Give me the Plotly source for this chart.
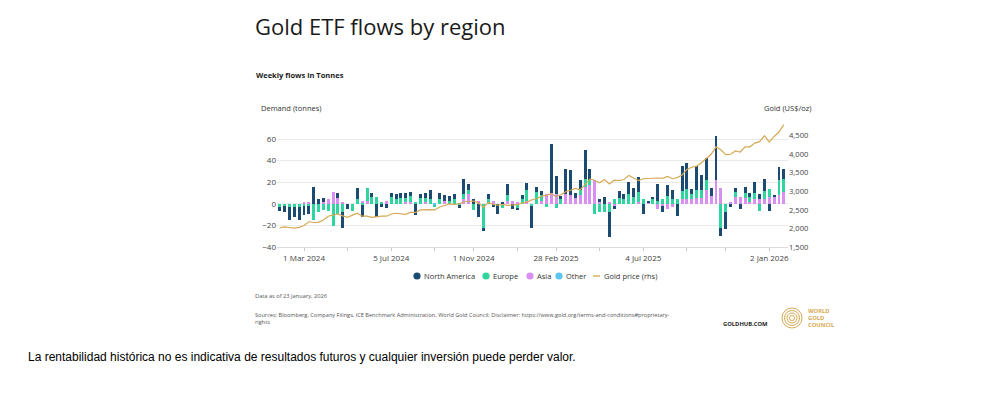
import plotly.graph_objects as go
import pandas as pd

# ---------------- data ----------------
start_date = "2024-01-26"
n_weeks = 105
dates = pd.date_range(start_date, periods=n_weeks, freq="7D")

north_america = [-4, -6, -12, -9, -12, -8, -7, 16, 4, 3,
                 0, 0, 5, -14, -5, 0, 11, -11, 0, 4,
                 -12, -3, -4, 4, 5, 5, 5, 4, -10, 4,
                 5, 9, 0, 6, 5, 4, 5, -3, 14, 5,
                 4, -12, -3, 5, -3, -9, 2, 10, -5, -2,
                 4, 6, -20, 5, 4, 0, 45, 17, 3, 23,
                 23, 5, 9, 27, 10, 0, 2, 6, -23, -3,
                 7, 5, 11, 9, 14, -9, 1, 2, 15, -6,
                 10, 9, -11, 23, 24, 5, 22, 14, 20, 8,
                 41, -8, -15, -3, 4, -5, 6, 4, 10, 5,
                 11, -7, 2, 12, 9]
europe = [-3, -2, -3, -3, -3, -2, -2, -15, -8, -6,
          -7, -21, -9, -8, 0, -7, 4, -1, 12, 6,
          6, 2, 0, 6, 4, 5, 3, 5, 2, 5,
          3, 4, -2, 4, 0, 3, 4, -1, 5, 4,
          -6, 0, -22, 4, 0, 0, -4, 5, 0, -4,
          4, 10, -2, 11, 5, -3, 0, -4, 4, 0,
          0, 0, 5, 7, 5, -9, -8, -8, -8, 4,
          5, 4, 9, 6, 9, 4, 0, 4, 3, 4,
          7, 4, 4, 8, 10, 5, 8, 8, 9, 0,
          0, -22, -8, 0, 5, 0, 5, 4, 6, -7,
          8, 8, 0, 14, 12]
asia = [0, 0, 0, 0, 0, 2, 2, 0, 0, 2,
        4, 11, 5, 2, 0, 0, 0, 3, 3, 0,
        0, 0, 3, 0, 0, 0, 2, 2, 0, 0,
        2, 0, 0, 0, 3, 0, 0, 0, 4, 9,
        0, 3, 0, 0, 3, 0, 0, 3, 3, 2,
        0, 3, 0, 0, 3, 9, 10, 9, 0, 9,
        8, 5, 8, 16, 17, 22, 2, 0, 2, -2,
        0, 0, 0, 0, 2, 0, 1, 0, -5, -2,
        -5, -3, 0, 4, 4, 4, 5, 5, 13, 7,
        22, 15, 0, 2, 6, 6, 5, 2, 4, 4,
        4, 6, 6, 8, 11]
other = [0, 0, 0, 0, 0, 0, 0, 0, 0, 0,
         0, 0, 0, 0, 0, 0, 0, 0, 0, 0,
         0, 0, 0, 0, 0, 0, 0, 0, 0, 0,
         0, 0, -1, 0, 0, 0, 0, 0, 0, 0,
         0, 0, 0, 0, 0, 0, 0, 0, 0, 0,
         0, 0, 0, 0, 0, 0, 0, 0, 0, 0,
         0, 0, 0, 0, 0, 0, 0, 0, 0, 0,
         0, 0, 0, 0, 0, 0, 0, 0, 0, 0,
         0, 0, 0, 0, 0, 0, 0, 0, 0, 0,
         0, 0, 0, 0, 0, 0, 0, 0, 0, 0,
         0, 0, 0, 0, 0]
gold_price = [2018, 2040, 2025, 2010, 2030, 2080, 2180, 2160, 2165, 2230,
              2330, 2360, 2390, 2340, 2300, 2360, 2410, 2330, 2330, 2300,
              2320, 2330, 2330, 2390, 2410, 2400, 2380, 2440, 2430, 2500,
              2510, 2505, 2500, 2580, 2620, 2660, 2650, 2660, 2720, 2740,
              2740, 2690, 2565, 2700, 2650, 2630, 2650, 2620, 2620, 2640,
              2690, 2710, 2770, 2800, 2870, 2890, 2940, 2860, 2910, 2990,
              3030, 3080, 3040, 3200, 3330, 3300, 3230, 3320, 3200, 3300,
              3290, 3320, 3430, 3360, 3290, 3340, 3350, 3350, 3360, 3350,
              3400, 3340, 3370, 3440, 3590, 3650, 3680, 3770, 3880, 4000,
              4200, 4120, 3990, 4000, 4090, 4060, 4200, 4200, 4300, 4340,
              4500, 4330, 4480, 4600, 4800]

tick_dates = ["2024-03-01", "2024-05-03", "2024-07-05", "2024-09-06", "2024-11-01",
              "2025-01-03", "2025-02-28", "2025-05-02", "2025-07-04", "2025-09-05",
              "2025-10-31", "2026-01-02"]
tick_labels = ["1 Mar 2024", "", "5 Jul 2024", "", "1 Nov 2024",
               "", "28 Feb 2025", "", "4 Jul 2025", "",
               "", "2 Jan 2026"]
left_ticks = [-40, -20, 0, 20, 40, 60]
right_ticks = [1500, 2000, 2500, 3000, 3500, 4000, 4500]

series_names = ["North America", "Europe", "Asia", "Other"]
legend_line_name = "Gold price (rhs)"

# ---------------- style ----------------
C_NA = "#1c4a70"
C_EU = "#2fd49e"
C_AS = "#d98ff2"
C_OT = "#5cc4f2"
C_GOLD = "#d6a955"
FONT = "Open Sans"

OFF = 8  # page body margin
W, H = 998 - 2 * OFF, 396 - 2 * OFF
# plot rectangle in reference-page pixels
PL, PR, PT, PB = 277, 788, 120, 247


def pxx(x):
    return (x - PL) / (PR - PL)


def pxy(y):
    return (PB - y) / (PB - PT)


bar_w = 4.3 * 86400000

fig = go.Figure()
for vals, name, col in [(asia, "Asia", C_AS), (other, "Other", C_OT),
                        (europe, "Europe", C_EU), (north_america, "North America", C_NA)]:
    fig.add_trace(go.Bar(x=dates, y=vals, name=name, marker_color=col,
                         marker_line_width=0, width=bar_w, showlegend=False))

fig.add_trace(go.Scatter(x=dates, y=gold_price, yaxis="y2", mode="lines",
                         line=dict(color=C_GOLD, width=1.2), showlegend=False))

left_top = -40 + (PB - PT) / 1.08
right_top = 1500 + (PB - PT) / 0.0371

fig.update_layout(
    width=W, height=H,
    margin=dict(l=PL - OFF, r=W - (PR - OFF), t=PT - OFF, b=H - (PB - OFF), pad=0),
    paper_bgcolor="white", plot_bgcolor="white",
    barmode="relative", bargap=0,
    font=dict(family=FONT, size=8, color="#444"),
    xaxis=dict(type="date", range=["2024-01-22", "2026-01-29"],
               tickvals=tick_dates, ticktext=tick_labels,
               ticks="outside", ticklen=3, tickcolor="#c8c8c8",
               showgrid=False, showline=True, linecolor="#dcdcdc", linewidth=1,
               tickfont=dict(size=8, color="#444")),
    yaxis=dict(range=[-40, left_top], tickvals=left_ticks,
               showgrid=True, gridcolor="#e9e9e9", gridwidth=1,
               zeroline=False, showline=False, ticks="",
               tickfont=dict(size=8, color="#444")),
    yaxis2=dict(range=[1500, right_top], tickvals=right_ticks, tickformat=",",
                overlaying="y", side="right", showgrid=False, zeroline=False,
                showline=False, ticks="", tickfont=dict(size=7.6, color="#444")),
    showlegend=False,
)

ann = []


def text(x, y, s, size, color="#333", anchor="left", bold=False, family=FONT):
    if bold:
        s = "<b>" + s + "</b>"
    ann.append(dict(x=pxx(x), y=pxy(y), xref="paper", yref="paper", text=s,
                    showarrow=False, xanchor=anchor, yanchor="middle",
                    font=dict(family=family, size=size, color=color)))


text(253, 26, "Gold ETF flows by region", 22, "#1a1a1a")
text(254, 75, "Weekly flows in Tonnes", 7.5, "#1a1a1a", bold=True)
text(259, 108, "Demand (tonnes)", 7.5, "#333")
text(813, 108, "Gold (US$/oz)", 7.5, "#333", anchor="right")
text(253, 296, "Data as of 23 January, 2026", 5.7, "#555")
text(253, 315, "Sources: Bloomberg, Company Filings, ICE Benchmark Administration, World Gold Council; "
     "Disclaimer: https://www.gold.org/terms-and-conditions#proprietary-", 5.6, "#555")
text(253, 322, "rights", 5.6, "#555")
text(721, 324, "GOLDHUB.COM", 5.8, "#222", bold=True)
text(806, 311, "WORLD", 5.8, C_GOLD, bold=True)
text(806, 318, "GOLD", 5.8, C_GOLD, bold=True)
text(806, 325, "COUNCIL", 5.8, C_GOLD, bold=True)
text(26, 357, "La rentabilidad histórica no es indicativa de resultados futuros y cualquier inversión puede perder valor.",
     12, "#000", family="Liberation Sans")

shapes = []
# legend
leg_y = 276
leg_items = [(417, C_NA, series_names[0]), (486, C_EU, series_names[1]),
             (530, C_AS, series_names[2]), (559, C_OT, series_names[3])]
for cx, col, name in leg_items:
    shapes.append(dict(type="circle", xref="paper", yref="paper",
                       xsizemode="pixel", ysizemode="pixel",
                       xanchor=pxx(cx), yanchor=pxy(leg_y),
                       x0=-3.6, x1=3.6, y0=-3.6, y1=3.6,
                       fillcolor=col, line=dict(width=0)))
    text(cx + 5, leg_y, name, 7.5, "#333")
shapes.append(dict(type="line", xref="paper", yref="paper",
                   x0=pxx(593), x1=pxx(600), y0=pxy(leg_y), y1=pxy(leg_y),
                   line=dict(color=C_GOLD, width=1.4)))
text(602, leg_y, legend_line_name, 7.5, "#333")

# logo rings
for r in [10, 7.5, 5, 2.5]:
    shapes.append(dict(type="circle", xref="paper", yref="paper",
                       xsizemode="pixel", ysizemode="pixel",
                       xanchor=pxx(792), yanchor=pxy(318),
                       x0=-r, x1=r, y0=-r, y1=r,
                       line=dict(color=C_GOLD, width=1)))

fig.update_layout(annotations=ann, shapes=shapes)
fig.write_html("out.html")
